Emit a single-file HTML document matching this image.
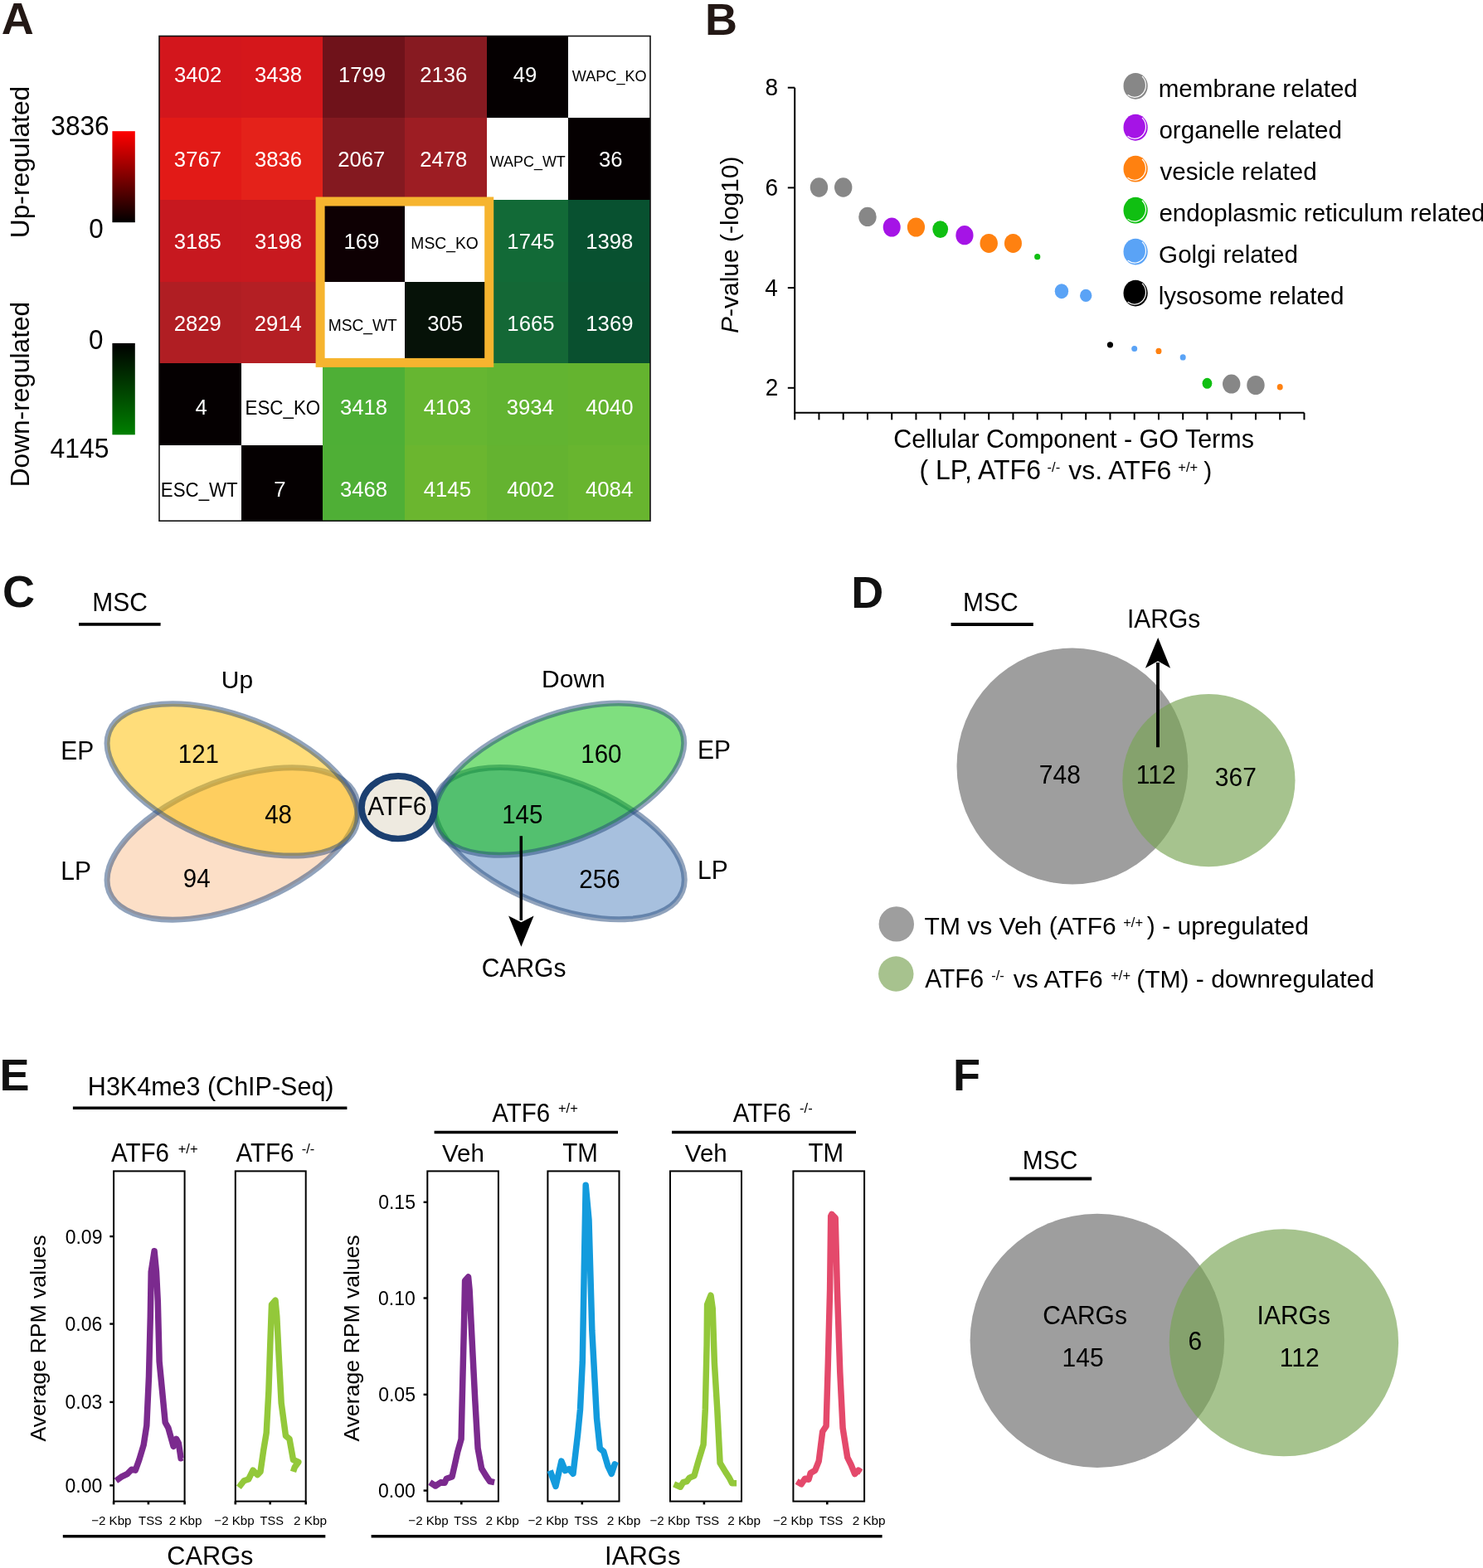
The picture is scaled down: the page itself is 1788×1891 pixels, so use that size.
<!DOCTYPE html><html><head><meta charset="utf-8"><title>Figure</title><style>html,body{margin:0;padding:0;background:#fff;overflow:hidden;width:1788px;height:1891px;}svg{display:block;}text{font-family:"Liberation Sans", Arial, Helvetica, sans-serif;}</style></head><body>
<svg width="1788" height="1891" viewBox="0 0 1788 1891">
<rect width="1788" height="1891" fill="#fff"/>
<defs><linearGradient id="gr" x1="0" y1="0" x2="0" y2="1"><stop offset="0" stop-color="#ff0000"/><stop offset="1" stop-color="#000000"/></linearGradient><linearGradient id="gg" x1="0" y1="0" x2="0" y2="1"><stop offset="0" stop-color="#000000"/><stop offset="1" stop-color="#008000"/></linearGradient></defs>
<text x="1.65" y="41.00" font-size="54.00" font-weight="bold" fill="#231815">A</text>
<rect x="192.00" y="43.50" width="98.97" height="98.80" fill="#D3161C" shape-rendering="crispEdges"/>
<rect x="290.67" y="43.50" width="98.97" height="98.80" fill="#D5171B" shape-rendering="crispEdges"/>
<rect x="389.33" y="43.50" width="98.97" height="98.80" fill="#6F121A" shape-rendering="crispEdges"/>
<rect x="488.00" y="43.50" width="98.97" height="98.80" fill="#871A21" shape-rendering="crispEdges"/>
<rect x="586.67" y="43.50" width="98.97" height="98.80" fill="#050001" shape-rendering="crispEdges"/>
<rect x="685.34" y="43.50" width="98.97" height="98.80" fill="#FFFFFF" shape-rendering="crispEdges"/>
<rect x="192.00" y="142.00" width="98.97" height="99.10" fill="#E21A17" shape-rendering="crispEdges"/>
<rect x="290.67" y="142.00" width="98.97" height="99.10" fill="#E4221A" shape-rendering="crispEdges"/>
<rect x="389.33" y="142.00" width="98.97" height="99.10" fill="#841920" shape-rendering="crispEdges"/>
<rect x="488.00" y="142.00" width="98.97" height="99.10" fill="#9D1D23" shape-rendering="crispEdges"/>
<rect x="586.67" y="142.00" width="98.97" height="99.10" fill="#FFFFFF" shape-rendering="crispEdges"/>
<rect x="685.34" y="142.00" width="98.97" height="99.10" fill="#050001" shape-rendering="crispEdges"/>
<rect x="192.00" y="240.80" width="98.97" height="99.00" fill="#C7181F" shape-rendering="crispEdges"/>
<rect x="290.67" y="240.80" width="98.97" height="99.00" fill="#C8191F" shape-rendering="crispEdges"/>
<rect x="389.33" y="240.80" width="98.97" height="99.00" fill="#0E0003" shape-rendering="crispEdges"/>
<rect x="488.00" y="240.80" width="98.97" height="99.00" fill="#FFFFFF" shape-rendering="crispEdges"/>
<rect x="586.67" y="240.80" width="98.97" height="99.00" fill="#126A37" shape-rendering="crispEdges"/>
<rect x="685.34" y="240.80" width="98.97" height="99.00" fill="#085130" shape-rendering="crispEdges"/>
<rect x="192.00" y="339.50" width="98.97" height="99.10" fill="#B01E23" shape-rendering="crispEdges"/>
<rect x="290.67" y="339.50" width="98.97" height="99.10" fill="#B41F24" shape-rendering="crispEdges"/>
<rect x="389.33" y="339.50" width="98.97" height="99.10" fill="#FFFFFF" shape-rendering="crispEdges"/>
<rect x="488.00" y="339.50" width="98.97" height="99.10" fill="#061208" shape-rendering="crispEdges"/>
<rect x="586.67" y="339.50" width="98.97" height="99.10" fill="#146836" shape-rendering="crispEdges"/>
<rect x="685.34" y="339.50" width="98.97" height="99.10" fill="#09502F" shape-rendering="crispEdges"/>
<rect x="192.00" y="438.30" width="98.97" height="98.70" fill="#050001" shape-rendering="crispEdges"/>
<rect x="290.67" y="438.30" width="98.97" height="98.70" fill="#FFFFFF" shape-rendering="crispEdges"/>
<rect x="389.33" y="438.30" width="98.97" height="98.70" fill="#4EAF36" shape-rendering="crispEdges"/>
<rect x="488.00" y="438.30" width="98.97" height="98.70" fill="#66B631" shape-rendering="crispEdges"/>
<rect x="586.67" y="438.30" width="98.97" height="98.70" fill="#62B431" shape-rendering="crispEdges"/>
<rect x="685.34" y="438.30" width="98.97" height="98.70" fill="#64B42F" shape-rendering="crispEdges"/>
<rect x="192.00" y="536.70" width="98.97" height="91.80" fill="#FFFFFF" shape-rendering="crispEdges"/>
<rect x="290.67" y="536.70" width="98.97" height="91.80" fill="#050001" shape-rendering="crispEdges"/>
<rect x="389.33" y="536.70" width="98.97" height="91.80" fill="#4FAF36" shape-rendering="crispEdges"/>
<rect x="488.00" y="536.70" width="98.97" height="91.80" fill="#6BB62F" shape-rendering="crispEdges"/>
<rect x="586.67" y="536.70" width="98.97" height="91.80" fill="#64B330" shape-rendering="crispEdges"/>
<rect x="685.34" y="536.70" width="98.97" height="91.80" fill="#68B52F" shape-rendering="crispEdges"/>
<text transform="translate(210.04,98.60) scale(1,1.035)" font-size="25.70" fill="#fff">3402</text>
<text transform="translate(307.01,98.60) scale(1,1.035)" font-size="25.70" fill="#fff">3438</text>
<text transform="translate(407.92,98.60) scale(1,1.035)" font-size="25.70" fill="#fff">1799</text>
<text transform="translate(506.18,98.60) scale(1,1.035)" font-size="25.70" fill="#fff">2136</text>
<text transform="translate(618.66,98.60) scale(1,1.035)" font-size="25.70" fill="#fff">49</text>
<text transform="translate(689.81,98.30) scale(1,1.035)" font-size="18.11" fill="#000">WAPC_KO</text>
<text transform="translate(209.84,201.20) scale(1,1.035)" font-size="25.70" fill="#fff">3767</text>
<text transform="translate(307.01,201.20) scale(1,1.035)" font-size="25.70" fill="#fff">3836</text>
<text transform="translate(407.21,201.20) scale(1,1.035)" font-size="25.70" fill="#fff">2067</text>
<text transform="translate(506.18,201.20) scale(1,1.035)" font-size="25.70" fill="#fff">2478</text>
<text transform="translate(590.81,200.90) scale(1,1.035)" font-size="17.94" fill="#000">WAPC_WT</text>
<text transform="translate(721.94,201.20) scale(1,1.035)" font-size="25.70" fill="#fff">36</text>
<text transform="translate(209.71,300.10) scale(1,1.035)" font-size="25.70" fill="#fff">3185</text>
<text transform="translate(307.01,300.10) scale(1,1.035)" font-size="25.70" fill="#fff">3198</text>
<text transform="translate(414.42,300.10) scale(1,1.035)" font-size="25.70" fill="#fff">169</text>
<text transform="translate(495.36,299.80) scale(1,1.035)" font-size="19.29" fill="#000">MSC_KO</text>
<text transform="translate(611.36,300.10) scale(1,1.035)" font-size="25.70" fill="#fff">1745</text>
<text transform="translate(706.26,300.10) scale(1,1.035)" font-size="25.70" fill="#fff">1398</text>
<text transform="translate(209.64,398.80) scale(1,1.035)" font-size="25.70" fill="#fff">2829</text>
<text transform="translate(306.75,398.80) scale(1,1.035)" font-size="25.70" fill="#fff">2914</text>
<text transform="translate(395.66,398.50) scale(1,1.035)" font-size="19.20" fill="#000">MSC_WT</text>
<text transform="translate(515.30,398.80) scale(1,1.035)" font-size="25.70" fill="#fff">305</text>
<text transform="translate(611.36,398.80) scale(1,1.035)" font-size="25.70" fill="#fff">1665</text>
<text transform="translate(706.32,398.80) scale(1,1.035)" font-size="25.70" fill="#fff">1369</text>
<text transform="translate(235.50,500.20) scale(1,1.035)" font-size="25.70" fill="#fff">4</text>
<text transform="translate(295.51,499.90) scale(1,1.035)" font-size="22.37" fill="#000">ESC_KO</text>
<text transform="translate(409.91,500.20) scale(1,1.035)" font-size="25.70" fill="#fff">3418</text>
<text transform="translate(510.77,500.20) scale(1,1.035)" font-size="25.70" fill="#fff">4103</text>
<text transform="translate(610.68,500.20) scale(1,1.035)" font-size="25.70" fill="#fff">3934</text>
<text transform="translate(706.30,500.20) scale(1,1.035)" font-size="25.70" fill="#fff">4040</text>
<text transform="translate(193.82,598.50) scale(1,1.035)" font-size="22.29" fill="#000">ESC_WT</text>
<text transform="translate(330.17,598.80) scale(1,1.035)" font-size="25.70" fill="#fff">7</text>
<text transform="translate(409.91,598.80) scale(1,1.035)" font-size="25.70" fill="#fff">3468</text>
<text transform="translate(510.77,598.80) scale(1,1.035)" font-size="25.70" fill="#fff">4145</text>
<text transform="translate(611.29,598.80) scale(1,1.035)" font-size="25.70" fill="#fff">4002</text>
<text transform="translate(706.04,598.80) scale(1,1.035)" font-size="25.70" fill="#fff">4084</text>
<rect x="192" y="43.5" width="592" height="584.7" fill="none" stroke="#111" stroke-width="1.6"/>
<rect x="386.1" y="243" width="203.6" height="194.4" fill="none" stroke="#F6B42F" stroke-width="11"/>
<rect x="135.4" y="158.2" width="27.4" height="110" fill="url(#gr)"/>
<rect x="135.4" y="413.9" width="27.4" height="110.4" fill="url(#gg)"/>
<text transform="translate(61.34,162.50) scale(1,1.035)" font-size="31.61" fill="#000">3836</text>
<text transform="translate(107.14,286.60) scale(1,1.035)" font-size="31.40" fill="#000">0</text>
<text transform="translate(107.04,420.80) scale(1,1.035)" font-size="31.40" fill="#000">0</text>
<text transform="translate(60.56,552.00) scale(1,1.035)" font-size="31.96" fill="#000">4145</text>
<text transform="translate(34.90,287.18) rotate(-90)" font-size="31.72" fill="#000">Up-regulated</text>
<text transform="translate(34.90,587.33) rotate(-90)" font-size="31.67" fill="#000">Down-regulated</text>
<text x="849.89" y="42.00" font-size="54.00" font-weight="bold" fill="#231815">B</text>
<path d="M958.2,105.70 V497.8 H1572.5" fill="none" stroke="#000" stroke-width="2"/>
<line x1="949.8" y1="105.70" x2="958.2" y2="105.70" stroke="#000" stroke-width="2"/>
<text transform="translate(922.58,115.30) scale(1,1.035)" font-size="28.00" fill="#000">8</text>
<line x1="949.8" y1="226.40" x2="958.2" y2="226.40" stroke="#000" stroke-width="2"/>
<text transform="translate(922.58,236.00) scale(1,1.035)" font-size="28.00" fill="#000">6</text>
<line x1="949.8" y1="347.10" x2="958.2" y2="347.10" stroke="#000" stroke-width="2"/>
<text transform="translate(922.30,356.70) scale(1,1.035)" font-size="28.00" fill="#000">4</text>
<line x1="949.8" y1="467.80" x2="958.2" y2="467.80" stroke="#000" stroke-width="2"/>
<text transform="translate(922.86,477.40) scale(1,1.035)" font-size="28.00" fill="#000">2</text>
<line x1="958.20" y1="497.8" x2="958.20" y2="506.3" stroke="#000" stroke-width="2"/>
<line x1="987.45" y1="497.8" x2="987.45" y2="506.3" stroke="#000" stroke-width="2"/>
<line x1="1016.70" y1="497.8" x2="1016.70" y2="506.3" stroke="#000" stroke-width="2"/>
<line x1="1045.95" y1="497.8" x2="1045.95" y2="506.3" stroke="#000" stroke-width="2"/>
<line x1="1075.20" y1="497.8" x2="1075.20" y2="506.3" stroke="#000" stroke-width="2"/>
<line x1="1104.45" y1="497.8" x2="1104.45" y2="506.3" stroke="#000" stroke-width="2"/>
<line x1="1133.70" y1="497.8" x2="1133.70" y2="506.3" stroke="#000" stroke-width="2"/>
<line x1="1162.95" y1="497.8" x2="1162.95" y2="506.3" stroke="#000" stroke-width="2"/>
<line x1="1192.20" y1="497.8" x2="1192.20" y2="506.3" stroke="#000" stroke-width="2"/>
<line x1="1221.45" y1="497.8" x2="1221.45" y2="506.3" stroke="#000" stroke-width="2"/>
<line x1="1250.70" y1="497.8" x2="1250.70" y2="506.3" stroke="#000" stroke-width="2"/>
<line x1="1279.95" y1="497.8" x2="1279.95" y2="506.3" stroke="#000" stroke-width="2"/>
<line x1="1309.20" y1="497.8" x2="1309.20" y2="506.3" stroke="#000" stroke-width="2"/>
<line x1="1338.45" y1="497.8" x2="1338.45" y2="506.3" stroke="#000" stroke-width="2"/>
<line x1="1367.70" y1="497.8" x2="1367.70" y2="506.3" stroke="#000" stroke-width="2"/>
<line x1="1396.95" y1="497.8" x2="1396.95" y2="506.3" stroke="#000" stroke-width="2"/>
<line x1="1426.20" y1="497.8" x2="1426.20" y2="506.3" stroke="#000" stroke-width="2"/>
<line x1="1455.45" y1="497.8" x2="1455.45" y2="506.3" stroke="#000" stroke-width="2"/>
<line x1="1484.70" y1="497.8" x2="1484.70" y2="506.3" stroke="#000" stroke-width="2"/>
<line x1="1513.95" y1="497.8" x2="1513.95" y2="506.3" stroke="#000" stroke-width="2"/>
<line x1="1543.20" y1="497.8" x2="1543.20" y2="506.3" stroke="#000" stroke-width="2"/>
<line x1="1572.45" y1="497.8" x2="1572.45" y2="506.3" stroke="#000" stroke-width="2"/>
<ellipse cx="987.45" cy="226" rx="10.7" ry="11.7" fill="#878787"/>
<ellipse cx="1016.70" cy="226" rx="10.7" ry="11.7" fill="#878787"/>
<ellipse cx="1045.95" cy="261.4" rx="10.7" ry="11.7" fill="#878787"/>
<ellipse cx="1075.20" cy="274" rx="10.5" ry="11.6" fill="#A514E6"/>
<ellipse cx="1104.45" cy="274" rx="10.6" ry="11.6" fill="#FF8110"/>
<ellipse cx="1133.70" cy="276.6" rx="9.4" ry="10.3" fill="#10BF12"/>
<ellipse cx="1162.95" cy="283.7" rx="10.6" ry="11.6" fill="#A514E6"/>
<ellipse cx="1192.20" cy="293.4" rx="10.7" ry="11.5" fill="#FF8110"/>
<ellipse cx="1221.45" cy="293.4" rx="10.5" ry="11.5" fill="#FF8110"/>
<ellipse cx="1250.70" cy="309.7" rx="3.6" ry="3.6" fill="#10BF12"/>
<ellipse cx="1279.95" cy="351.2" rx="8.2" ry="9" fill="#5AA3F6"/>
<ellipse cx="1309.20" cy="356.4" rx="7.2" ry="7.7" fill="#5AA3F6"/>
<ellipse cx="1338.45" cy="415.8" rx="3.6" ry="3.6" fill="#000"/>
<ellipse cx="1367.70" cy="420.4" rx="3.5" ry="3.5" fill="#5AA3F6"/>
<ellipse cx="1396.95" cy="423.4" rx="3.5" ry="3.6" fill="#FF8110"/>
<ellipse cx="1426.20" cy="430.9" rx="3.5" ry="3.6" fill="#5AA3F6"/>
<ellipse cx="1455.45" cy="462.3" rx="5.9" ry="6.5" fill="#10BF12"/>
<ellipse cx="1484.70" cy="463.1" rx="10.7" ry="11.5" fill="#878787"/>
<ellipse cx="1513.95" cy="464.5" rx="10.7" ry="11.5" fill="#878787"/>
<ellipse cx="1543.20" cy="466.8" rx="3.5" ry="3.8" fill="#FF8110"/>
<ellipse cx="1369.1" cy="103.80" rx="14.6" ry="15.9" fill="#878787"/>
<path d="M1377.34,92.37 A13.5 14.5 0 0 1 1360.02,114.53" fill="none" stroke="#fff" stroke-width="1.2" stroke-linecap="round"/>
<text x="1396.68" y="117.40" font-size="29.60" fill="#000">membrane related</text>
<ellipse cx="1369.1" cy="153.75" rx="14.6" ry="15.9" fill="#A514E6"/>
<path d="M1377.34,142.32 A13.5 14.5 0 0 1 1360.02,164.48" fill="none" stroke="#fff" stroke-width="1.2" stroke-linecap="round"/>
<text x="1397.42" y="167.35" font-size="29.60" fill="#000">organelle related</text>
<ellipse cx="1369.1" cy="203.70" rx="14.6" ry="15.9" fill="#FF8110"/>
<path d="M1377.34,192.27 A13.5 14.5 0 0 1 1360.02,214.43" fill="none" stroke="#fff" stroke-width="1.2" stroke-linecap="round"/>
<text x="1398.45" y="217.30" font-size="29.60" fill="#000">vesicle related</text>
<ellipse cx="1369.1" cy="253.65" rx="14.6" ry="15.9" fill="#10BF12"/>
<path d="M1377.34,242.22 A13.5 14.5 0 0 1 1360.02,264.38" fill="none" stroke="#fff" stroke-width="1.2" stroke-linecap="round"/>
<text x="1397.42" y="267.25" font-size="29.60" fill="#000">endoplasmic reticulum related</text>
<ellipse cx="1369.1" cy="303.60" rx="14.6" ry="15.9" fill="#5AA3F6"/>
<path d="M1377.34,292.17 A13.5 14.5 0 0 1 1360.02,314.33" fill="none" stroke="#fff" stroke-width="1.2" stroke-linecap="round"/>
<text x="1397.12" y="317.20" font-size="29.60" fill="#000">Golgi related</text>
<ellipse cx="1369.1" cy="353.55" rx="14.6" ry="15.9" fill="#000"/>
<path d="M1377.34,342.12 A13.5 14.5 0 0 1 1360.02,364.28" fill="none" stroke="#fff" stroke-width="1.2" stroke-linecap="round"/>
<text x="1396.68" y="367.15" font-size="29.60" fill="#000">lysosome related</text>
<text transform="translate(889.6,402) rotate(-90)" font-size="30"><tspan font-style="italic">P</tspan>-value (-log10)</text>
<text x="1077.28" y="540.20" font-size="30.48" fill="#000">Cellular Component - GO Terms</text>
<text transform="translate(1108.38,578.00) scale(1,1.035)" font-size="32.04" fill="#000">( LP, ATF6</text>
<text x="1262.56" y="569.00" font-size="16.50" fill="#000">-/-</text>
<text x="1288.34" y="578.00" font-size="32.03" fill="#000">vs. ATF6</text>
<text x="1420.27" y="569.00" font-size="16.50" fill="#000">+/+</text>
<text x="1451.15" y="578.00" font-size="30.00" fill="#000">)</text>
<text x="2.94" y="732.00" font-size="54.00" font-weight="bold" fill="#111">C</text>
<text transform="translate(111.20,737.10) scale(1,1.035)" font-size="30.00" fill="#000">MSC</text>
<line x1="95" y1="752.8" x2="193.6" y2="752.8" stroke="#000" stroke-width="3.8"/>
<text x="266.75" y="830.00" font-size="30.00" fill="#000">Up</text>
<text x="653.10" y="828.80" font-size="30.00" fill="#000">Down</text>
<ellipse cx="0" cy="0" rx="159.5" ry="76.3" transform="translate(280.2,1017.5) rotate(-21.3)" fill="rgba(250,192,144,0.5)" stroke="rgba(35,72,122,0.5)" stroke-width="7"/>
<ellipse cx="0" cy="0" rx="159.5" ry="76.3" transform="translate(280.2,940.4) rotate(21.3)" fill="rgba(255,190,0,0.52)" stroke="rgba(35,72,122,0.5)" stroke-width="7"/>
<ellipse cx="0" cy="0" rx="159" ry="76.3" transform="translate(674.5,1017.2) rotate(21.3)" fill="rgba(79,129,189,0.5)" stroke="rgba(35,72,122,0.5)" stroke-width="7"/>
<ellipse cx="0" cy="0" rx="159" ry="76.3" transform="translate(674,939.6) rotate(-21.3)" fill="rgba(0,192,0,0.5)" stroke="rgba(35,72,122,0.5)" stroke-width="7"/>
<ellipse cx="480" cy="973.7" rx="44" ry="37.8" fill="#EEEAE0" stroke="#1B3F70" stroke-width="7.7"/>
<text transform="translate(443.30,983.00) scale(1,1.035)" font-size="30.00" fill="#000">ATF6</text>
<text transform="translate(73.30,915.60) scale(1,1.035)" font-size="30.00" fill="#000">EP</text>
<text transform="translate(73.30,1060.60) scale(1,1.035)" font-size="30.00" fill="#000">LP</text>
<text transform="translate(841.00,915.30) scale(1,1.035)" font-size="30.00" fill="#000">EP</text>
<text transform="translate(841.00,1060.00) scale(1,1.035)" font-size="30.00" fill="#000">LP</text>
<text transform="translate(214.79,919.90) scale(1,1.035)" font-size="29.50" fill="#000">121</text>
<text transform="translate(319.21,992.70) scale(1,1.035)" font-size="29.50" fill="#000">48</text>
<text transform="translate(220.87,1069.80) scale(1,1.035)" font-size="29.50" fill="#000">94</text>
<text transform="translate(700.29,919.80) scale(1,1.035)" font-size="29.50" fill="#000">160</text>
<text transform="translate(605.19,993.00) scale(1,1.035)" font-size="29.50" fill="#000">145</text>
<text transform="translate(698.32,1070.80) scale(1,1.035)" font-size="29.50" fill="#000">256</text>
<line x1="628.3" y1="1008.2" x2="628.3" y2="1110" stroke="#000" stroke-width="3.5"/>
<path d="M613.1,1104.4 L628.4,1112.3 L643.6,1104.4 L628.4,1141.8 Z" fill="#000"/>
<text transform="translate(580.80,1178.20) scale(1,1.035)" font-size="30.00" fill="#000">CARGs</text>
<text x="1026.29" y="732.70" font-size="54.00" font-weight="bold" fill="#111">D</text>
<text transform="translate(1161.10,737.00) scale(1,1.035)" font-size="30.00" fill="#000">MSC</text>
<line x1="1146.6" y1="753" x2="1245.8" y2="753" stroke="#000" stroke-width="3.8"/>
<ellipse cx="1292.9" cy="924" rx="139.4" ry="142.5" fill="#9E9E9E"/>
<circle cx="1457.4" cy="941.2" r="104.1" fill="rgba(120,164,84,0.66)"/>
<text transform="translate(1252.80,945.00) scale(1,1.035)" font-size="30.00" fill="#000">748</text>
<text transform="translate(1369.75,945.00) scale(1,1.035)" font-size="30.00" fill="#000">112</text>
<text transform="translate(1464.80,947.50) scale(1,1.035)" font-size="30.00" fill="#000">367</text>
<line x1="1396" y1="901.2" x2="1396" y2="799" stroke="#000" stroke-width="3.9"/>
<path d="M1380.9,805.8 L1396,797.2 L1411.1,805.8 L1396.2,769.1 Z" fill="#000"/>
<text transform="translate(1359.00,756.50) scale(1,1.035)" font-size="30.00" fill="#000">IARGs</text>
<circle cx="1080.8" cy="1114.4" r="21.2" fill="#9E9E9E"/>
<circle cx="1080.3" cy="1174.5" r="21.2" fill="#A7C28E"/>
<text x="1114.60" y="1127.20" font-size="30.00" fill="#000">TM vs Veh (ATF6</text>
<text x="1354.17" y="1118.00" font-size="16.50" fill="#000">+/+</text>
<text x="1382.85" y="1127.20" font-size="30.00" fill="#000">) - upregulated</text>
<text transform="translate(1115.20,1191.00) scale(1,1.035)" font-size="30.00" fill="#000">ATF6</text>
<text x="1195.26" y="1182.00" font-size="16.50" fill="#000">-/-</text>
<text x="1221.85" y="1191.00" font-size="30.00" fill="#000">vs ATF6</text>
<text x="1339.17" y="1182.00" font-size="16.50" fill="#000">+/+</text>
<text x="1370.20" y="1191.00" font-size="30.00" fill="#000">(TM) - downregulated</text>
<text x="-0.51" y="1315.40" font-size="54.00" font-weight="bold" fill="#111">E</text>
<text x="105.86" y="1321.00" font-size="30.50" fill="#000">H3K4me3 (ChIP-Seq)</text>
<line x1="87.9" y1="1336.3" x2="418.4" y2="1336.3" stroke="#000" stroke-width="3.5"/>
<text transform="translate(134.10,1401.30) scale(1,1.035)" font-size="29.50" fill="#000">ATF6</text>
<text x="214.68" y="1390.50" font-size="16.50" fill="#000">+/+</text>
<text transform="translate(284.40,1401.30) scale(1,1.035)" font-size="29.50" fill="#000">ATF6</text>
<text x="363.66" y="1390.50" font-size="16.50" fill="#000">-/-</text>
<text transform="translate(593.20,1352.50) scale(1,1.035)" font-size="29.50" fill="#000">ATF6</text>
<text x="672.97" y="1341.70" font-size="16.50" fill="#000">+/+</text>
<text transform="translate(883.80,1352.50) scale(1,1.035)" font-size="29.50" fill="#000">ATF6</text>
<text x="964.06" y="1341.70" font-size="16.50" fill="#000">-/-</text>
<line x1="523.6" y1="1365.4" x2="745" y2="1365.4" stroke="#000" stroke-width="3.5"/>
<line x1="810" y1="1365.4" x2="1032" y2="1365.4" stroke="#000" stroke-width="3.5"/>
<text x="532.95" y="1400.80" font-size="29.50" fill="#000">Veh</text>
<text transform="translate(678.21,1400.80) scale(1,1.035)" font-size="29.50" fill="#000">TM</text>
<text x="825.85" y="1400.80" font-size="29.50" fill="#000">Veh</text>
<text transform="translate(974.41,1400.80) scale(1,1.035)" font-size="29.50" fill="#000">TM</text>
<rect x="137.1" y="1412.4" width="85.50" height="398.20" fill="none" stroke="#000" stroke-width="2"/>
<line x1="137.10" y1="1810.6" x2="137.10" y2="1814.3999999999999" stroke="#000" stroke-width="2.6"/>
<line x1="178.90" y1="1810.6" x2="178.90" y2="1814.3999999999999" stroke="#000" stroke-width="2.6"/>
<line x1="222.60" y1="1810.6" x2="222.60" y2="1814.3999999999999" stroke="#000" stroke-width="2.6"/>
<text x="110.14" y="1838.90" font-size="15.14" fill="#000">−2 Kbp</text>
<text transform="translate(167.10,1838.90) scale(1,1.035)" font-size="14.84" fill="#000">TSS</text>
<text x="203.63" y="1838.90" font-size="15.32" fill="#000">2 Kbp</text>
<rect x="283.8" y="1412.4" width="84.90" height="398.20" fill="none" stroke="#000" stroke-width="2"/>
<line x1="283.80" y1="1810.6" x2="283.80" y2="1814.3999999999999" stroke="#000" stroke-width="2.6"/>
<line x1="325.70" y1="1810.6" x2="325.70" y2="1814.3999999999999" stroke="#000" stroke-width="2.6"/>
<line x1="368.70" y1="1810.6" x2="368.70" y2="1814.3999999999999" stroke="#000" stroke-width="2.6"/>
<text x="258.34" y="1838.90" font-size="15.10" fill="#000">−2 Kbp</text>
<text transform="translate(313.61,1838.90) scale(1,1.035)" font-size="14.57" fill="#000">TSS</text>
<text x="353.93" y="1838.90" font-size="15.32" fill="#000">2 Kbp</text>
<rect x="515.3" y="1412.4" width="85.60" height="398.20" fill="none" stroke="#000" stroke-width="2"/>
<line x1="556.30" y1="1810.6" x2="556.30" y2="1814.3999999999999" stroke="#000" stroke-width="2.6"/>
<text x="492.34" y="1838.90" font-size="15.14" fill="#000">−2 Kbp</text>
<text transform="translate(547.31,1838.90) scale(1,1.035)" font-size="14.47" fill="#000">TSS</text>
<text x="585.43" y="1838.90" font-size="15.44" fill="#000">2 Kbp</text>
<rect x="660.4" y="1412.4" width="86.10" height="398.20" fill="none" stroke="#000" stroke-width="2"/>
<line x1="701.80" y1="1810.6" x2="701.80" y2="1814.3999999999999" stroke="#000" stroke-width="2.6"/>
<text x="636.44" y="1838.90" font-size="15.30" fill="#000">−2 Kbp</text>
<text transform="translate(692.51,1838.90) scale(1,1.035)" font-size="14.68" fill="#000">TSS</text>
<text x="731.72" y="1838.90" font-size="15.52" fill="#000">2 Kbp</text>
<rect x="808" y="1412.4" width="86.00" height="398.20" fill="none" stroke="#000" stroke-width="2"/>
<line x1="848.90" y1="1810.6" x2="848.90" y2="1814.3999999999999" stroke="#000" stroke-width="2.6"/>
<text x="783.54" y="1838.90" font-size="15.10" fill="#000">−2 Kbp</text>
<text transform="translate(838.51,1838.90) scale(1,1.035)" font-size="14.73" fill="#000">TSS</text>
<text x="877.13" y="1838.90" font-size="15.32" fill="#000">2 Kbp</text>
<rect x="956.4" y="1412.4" width="85.70" height="398.20" fill="none" stroke="#000" stroke-width="2"/>
<line x1="997.30" y1="1810.6" x2="997.30" y2="1814.3999999999999" stroke="#000" stroke-width="2.6"/>
<text x="932.04" y="1838.90" font-size="15.10" fill="#000">−2 Kbp</text>
<text transform="translate(987.81,1838.90) scale(1,1.035)" font-size="14.73" fill="#000">TSS</text>
<text x="1027.63" y="1838.90" font-size="15.32" fill="#000">2 Kbp</text>
<line x1="132.3" y1="1491.1" x2="137.1" y2="1491.1" stroke="#000" stroke-width="2.4"/>
<text transform="translate(78.70,1499.50) scale(1,1.035)" font-size="23.00" fill="#000">0.09</text>
<line x1="132.3" y1="1596.6" x2="137.1" y2="1596.6" stroke="#000" stroke-width="2.4"/>
<text transform="translate(78.59,1605.00) scale(1,1.035)" font-size="23.00" fill="#000">0.06</text>
<line x1="132.3" y1="1690.9" x2="137.1" y2="1690.9" stroke="#000" stroke-width="2.4"/>
<text transform="translate(78.59,1699.30) scale(1,1.035)" font-size="23.00" fill="#000">0.03</text>
<line x1="132.3" y1="1791.4" x2="137.1" y2="1791.4" stroke="#000" stroke-width="2.4"/>
<text transform="translate(78.47,1799.80) scale(1,1.035)" font-size="23.00" fill="#000">0.00</text>
<line x1="510.6" y1="1449.8" x2="515.3" y2="1449.8" stroke="#000" stroke-width="2.4"/>
<text transform="translate(456.19,1458.20) scale(1,1.035)" font-size="23.00" fill="#000">0.15</text>
<line x1="510.6" y1="1565.5" x2="515.3" y2="1565.5" stroke="#000" stroke-width="2.4"/>
<text transform="translate(456.07,1573.90) scale(1,1.035)" font-size="23.00" fill="#000">0.10</text>
<line x1="510.6" y1="1681.8" x2="515.3" y2="1681.8" stroke="#000" stroke-width="2.4"/>
<text transform="translate(456.19,1690.20) scale(1,1.035)" font-size="23.00" fill="#000">0.05</text>
<line x1="510.6" y1="1797.6" x2="515.3" y2="1797.6" stroke="#000" stroke-width="2.4"/>
<text transform="translate(456.07,1806.00) scale(1,1.035)" font-size="23.00" fill="#000">0.00</text>
<text transform="translate(55.00,1738.40) rotate(-90)" font-size="26.60" fill="#000">Average RPM values</text>
<text transform="translate(433.40,1738.50) rotate(-90)" font-size="26.60" fill="#000">Average RPM values</text>
<line x1="75.8" y1="1852.8" x2="392.3" y2="1852.8" stroke="#000" stroke-width="3.5"/>
<line x1="447.6" y1="1852.8" x2="1063.6" y2="1852.8" stroke="#000" stroke-width="3.5"/>
<text transform="translate(201.36,1887.30) scale(1,1.035)" font-size="30.71" fill="#000">CARGs</text>
<text transform="translate(729.11,1887.30) scale(1,1.035)" font-size="31.03" fill="#000">IARGs</text>
<path d="M139.9,1785.8 L146.2,1781.2 L153.4,1777.6 L158.8,1772.2 L163.3,1773.1 L167.8,1760.5 L173.2,1742.5 L176.8,1719.1 L179.5,1659.8 L181.3,1587.9 L182.2,1533.9 L186.1,1508.8 L188.5,1533.9 L190.3,1569.9 L192.1,1641.8 L195.6,1677.8 L199.2,1715.5 L202.8,1721.8 L209.1,1744.3 L212.7,1735.4 L215.4,1740.8 L218.1,1758.7 L219.9,1757.8" fill="none" stroke="#7B2A8E" stroke-width="7.5" stroke-linejoin="round" stroke-linecap="butt"/>
<path d="M287.9,1793.8 L294.2,1785.8 L299.6,1784.0 L305.0,1773.2 L310.4,1778.6 L314.0,1774.9 L317.6,1749.7 L321.2,1728.1 L323.9,1677.8 L325.7,1623.8 L327.5,1573.5 L332.0,1568.1 L333.8,1587.9 L336.5,1641.8 L339.2,1692.2 L344.5,1731.7 L349.0,1735.4 L353.5,1760.5 L359.8,1763.2 L355.3,1769.5 L353.5,1774.9" fill="none" stroke="#93C83A" stroke-width="7.5" stroke-linejoin="round" stroke-linecap="butt"/>
<path d="M518.3,1787.6 L525.0,1792.0 L531.7,1787.6 L536.1,1788.3 L538.3,1783.2 L545.0,1781.0 L548.3,1766.5 L551.7,1751.0 L556.1,1735.4 L557.2,1688.8 L559.4,1600.0 L560.6,1544.4 L564.6,1540.0 L566.1,1555.5 L569.4,1622.2 L572.8,1688.8 L576.1,1746.5 L580.6,1771.0 L586.1,1780.0 L590.6,1786.5 L596.1,1787.6" fill="none" stroke="#7B2A8E" stroke-width="7.5" stroke-linejoin="round" stroke-linecap="butt"/>
<path d="M663.2,1773.5 L670.0,1792.5 L676.9,1762.1 L681.4,1773.5 L686.0,1771.6 L691.0,1777.3 L696.6,1729.8 L699.5,1700.0 L702.3,1642.3 L704.3,1528.2 L706.2,1429.3 L710.0,1471.1 L713.8,1604.3 L719.5,1710.7 L723.3,1746.9 L727.8,1750.7 L732.8,1767.8 L737.3,1777.3 L741.1,1765.9 L744.2,1767.8" fill="none" stroke="#139BDD" stroke-width="7.5" stroke-linejoin="round" stroke-linecap="butt"/>
<path d="M812.6,1789.9 L820.3,1793.2 L823.7,1787.6 L828.1,1786.5 L831.4,1782.1 L837.0,1779.8 L841.4,1764.3 L848.1,1742.1 L850.3,1699.9 L852.1,1622.2 L852.6,1573.3 L857.0,1562.2 L859.2,1577.7 L861.4,1644.3 L864.8,1699.9 L868.1,1764.3 L874.8,1775.4 L879.2,1782.1 L882.6,1788.8 L888.1,1788.8" fill="none" stroke="#93C83A" stroke-width="7.5" stroke-linejoin="round" stroke-linecap="butt"/>
<path d="M960.6,1786.5 L966.1,1789.9 L970.6,1783.2 L975.0,1784.3 L977.2,1776.5 L982.8,1773.2 L987.2,1762.1 L991.7,1726.5 L996.1,1719.9 L998.3,1644.3 L1000.6,1555.5 L1001.7,1466.6 L1002.8,1464.4 L1007.2,1468.9 L1009.4,1555.5 L1012.8,1655.4 L1016.1,1722.1 L1021.7,1757.6 L1026.1,1766.5 L1030.6,1777.6 L1035.0,1773.2 L1038.3,1775.4" fill="none" stroke="#E4496B" stroke-width="7.5" stroke-linejoin="round" stroke-linecap="butt"/>
<text x="1148.89" y="1315.10" font-size="54.00" font-weight="bold" fill="#111">F</text>
<text transform="translate(1232.80,1409.90) scale(1,1.035)" font-size="30.00" fill="#000">MSC</text>
<line x1="1217.3" y1="1421.5" x2="1316.2" y2="1421.5" stroke="#000" stroke-width="3.8"/>
<ellipse cx="1322.9" cy="1616.8" rx="153.3" ry="153.1" fill="#9E9E9E"/>
<ellipse cx="1547.9" cy="1619.3" rx="138.2" ry="137" fill="rgba(120,164,84,0.66)"/>
<text transform="translate(1257.30,1597.40) scale(1,1.035)" font-size="30.00" fill="#000">CARGs</text>
<text transform="translate(1280.55,1648.30) scale(1,1.035)" font-size="30.00" fill="#000">145</text>
<text transform="translate(1432.50,1628.20) scale(1,1.035)" font-size="30.00" fill="#000">6</text>
<text transform="translate(1515.60,1597.40) scale(1,1.035)" font-size="30.00" fill="#000">IARGs</text>
<text transform="translate(1542.75,1648.30) scale(1,1.035)" font-size="30.00" fill="#000">112</text>
</svg></body></html>
